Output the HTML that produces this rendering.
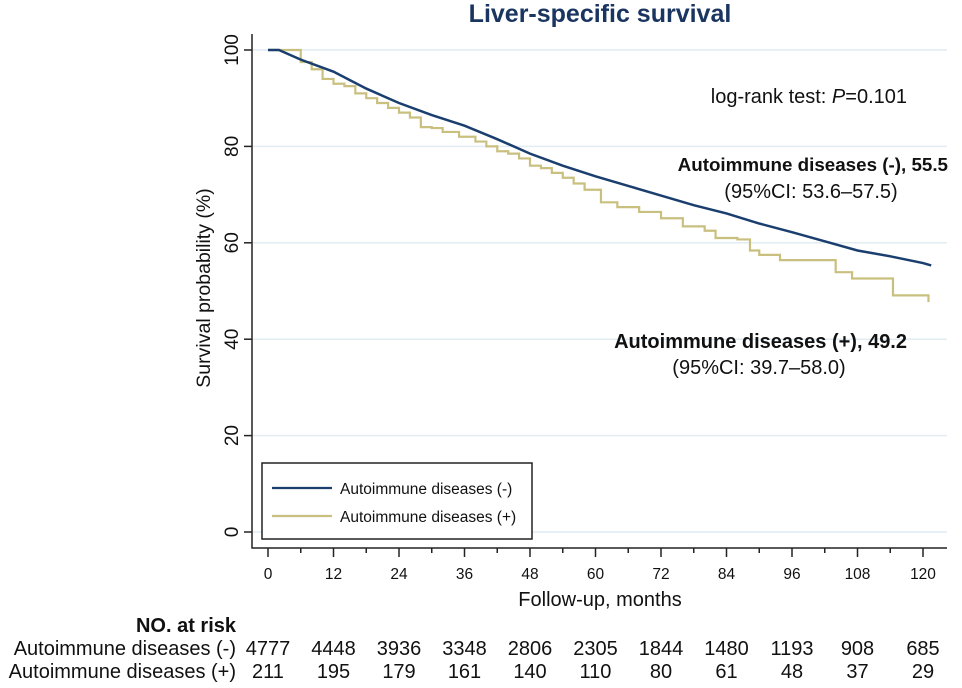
<!DOCTYPE html>
<html><head><meta charset="utf-8"><style>
body{margin:0;background:#fff;}
svg{display:block;font-family:"Liberation Sans",Arial,sans-serif;}
</style></head><body>
<svg id="chart" width="962" height="688" viewBox="0 0 962 688">
<text x="600" y="22" text-anchor="middle" font-size="25" font-weight="bold" fill="#1a3560">Liver-specific survival</text>
<g id="grid"></g>
<g id="axes"></g>
<g id="series"></g>
<text transform="translate(210,288) rotate(-90)" text-anchor="middle" font-size="19.5" fill="#111">Survival probability (%)</text>
<text x="600" y="606" text-anchor="middle" font-size="20" fill="#111">Follow-up, months</text>
<text x="907" y="103" text-anchor="end" font-size="20" fill="#111">log-rank test: <tspan font-style="italic">P</tspan>=0.101</text>
<text x="948" y="171" text-anchor="end" font-size="18.8" font-weight="bold" fill="#111">Autoimmune diseases (-), 55.5</text>
<text x="811" y="198" text-anchor="middle" font-size="20" fill="#111">(95%CI: 53.6–57.5)</text>
<text x="907" y="348" text-anchor="end" font-size="20" font-weight="bold" fill="#111">Autoimmune diseases (+), 49.2</text>
<text x="759" y="374" text-anchor="middle" font-size="20" fill="#111">(95%CI: 39.7–58.0)</text>
<g>
<rect x="262" y="463" width="270" height="76" fill="#fff" stroke="#222" stroke-width="1.5"/>
<line x1="272" y1="488" x2="332" y2="488" stroke="#1a3e6e" stroke-width="2.2"/>
<text x="340" y="494" font-size="15.5" fill="#111">Autoimmune diseases (-)</text>
<line x1="272" y1="516" x2="332" y2="516" stroke="#c9c07f" stroke-width="2.2"/>
<text x="340" y="522" font-size="15.5" fill="#111">Autoimmune diseases (+)</text>
</g>
<text x="236" y="632" text-anchor="end" font-size="20" font-weight="bold" fill="#111">NO. at risk</text>
<text x="236" y="655" text-anchor="end" font-size="20" fill="#111">Autoimmune diseases (-)</text>
<text x="236" y="678" text-anchor="end" font-size="20" fill="#111">Autoimmune diseases (+)</text>
<g id="risk"></g>
</svg>
<script>
const xTicks=[0,12,24,36,48,60,72,84,96,108,120];
const yTicks=[0,20,40,60,80,100];
const negTimes=[0,2,6,12,18,24,30,36,42,48,54,60,66,72,78,84,90,96,102,108,114,120,121.5];
const negValues=[100,100,98,95.5,92,89,86.5,84.3,81.5,78.5,76,73.8,71.8,69.8,67.8,66.1,64,62.2,60.3,58.4,57.2,55.8,55.3];
const posTimes=[0,3,6,8,10,12,14,16,18,20,22,24,26,28,30,32,35,38,40,42,44,46,48,50,52,54,56,58,61,64,68,72,76,80,82,86,88.3,90,93.8,104,107,114.5,121];
const posValues=[100,100,97.5,96,94,93,92.5,91,90,89,88,87,86,84,83.8,83,82,81,80,79,78.5,77.5,76,75.5,74.5,73.5,72.3,71,68.4,67.4,66.4,65.1,63.4,62.5,61,60.7,58.4,57.5,56.4,53.9,52.6,49.1,47.7];
const riskNeg=[4777,4448,3936,3348,2806,2305,1844,1480,1193,908,685];
const riskPos=[211,195,179,161,140,110,80,61,48,37,29];
const NS='http://www.w3.org/2000/svg';
const xS=m=>268+m*(655/120);
const yS=v=>532-v*4.82;
function mk(tag,attrs,parent,txt){const e=document.createElementNS(NS,tag);for(const k in attrs)e.setAttribute(k,attrs[k]);if(txt!==undefined)e.textContent=txt;parent.appendChild(e);return e;}
const grid=document.getElementById('grid'),axes=document.getElementById('axes'),series=document.getElementById('series'),risk=document.getElementById('risk');
yTicks.forEach(v=>{
 const g=mk('line',{x1:253,x2:947,y1:yS(v),y2:yS(v),stroke:'#e2ecf2','stroke-width':1.5},grid);
 
 
 const t=mk('line',{x1:244,x2:252,y1:yS(v),y2:yS(v),stroke:'#222','stroke-width':1.5},axes);
 
 
 const l=mk('text',{transform:`translate(${238},${yS(v)}) rotate(-90)`,'text-anchor':'middle','font-size':19,fill:'#111'},axes,v);
 
 
});
mk('line',{x1:252,x2:252,y1:34,y2:548.5,stroke:'#222','stroke-width':1.5},axes);
mk('line',{x1:251.5,x2:947,y1:548,y2:548,stroke:'#222','stroke-width':1.5},axes);
for(let m=0;m<=120;m+=6){
 const major=m%12===0;
 const t=mk('line',{x1:xS(m),x2:xS(m),y1:548,y2:major?557:553,stroke:'#222','stroke-width':1.5},axes);
 
 
}
xTicks.forEach((m,i)=>{
 const l=mk('text',{x:xS(m),y:579,'text-anchor':'middle','font-size':15.5,fill:'#111'},axes,m);
 
 
 const a=mk('text',{x:xS(m),y:655,'text-anchor':'middle','font-size':20,fill:'#111'},risk,riskNeg[i]);
 
 
 const b=mk('text',{x:xS(m),y:678,'text-anchor':'middle','font-size':20,fill:'#111'},risk,riskPos[i]);
 
 
});
function stepPath(ts,vs){let d=`M${xS(ts[0])},${yS(vs[0])}`;for(let i=1;i<ts.length;i++){d+=`H${xS(ts[i])}V${yS(vs[i])}`;}return d;}
function linePath(ts,vs){return ts.map((t,i)=>(i?'L':'M')+xS(t)+','+yS(vs[i])).join('');}
const p2=mk('path',{d:stepPath(posTimes,posValues),fill:'none',stroke:'#c9c07f','stroke-width':2.2},series);


const p1=mk('path',{d:linePath(negTimes,negValues),fill:'none',stroke:'#1a3e6e','stroke-width':2.5},series);


</script>
</body></html>
